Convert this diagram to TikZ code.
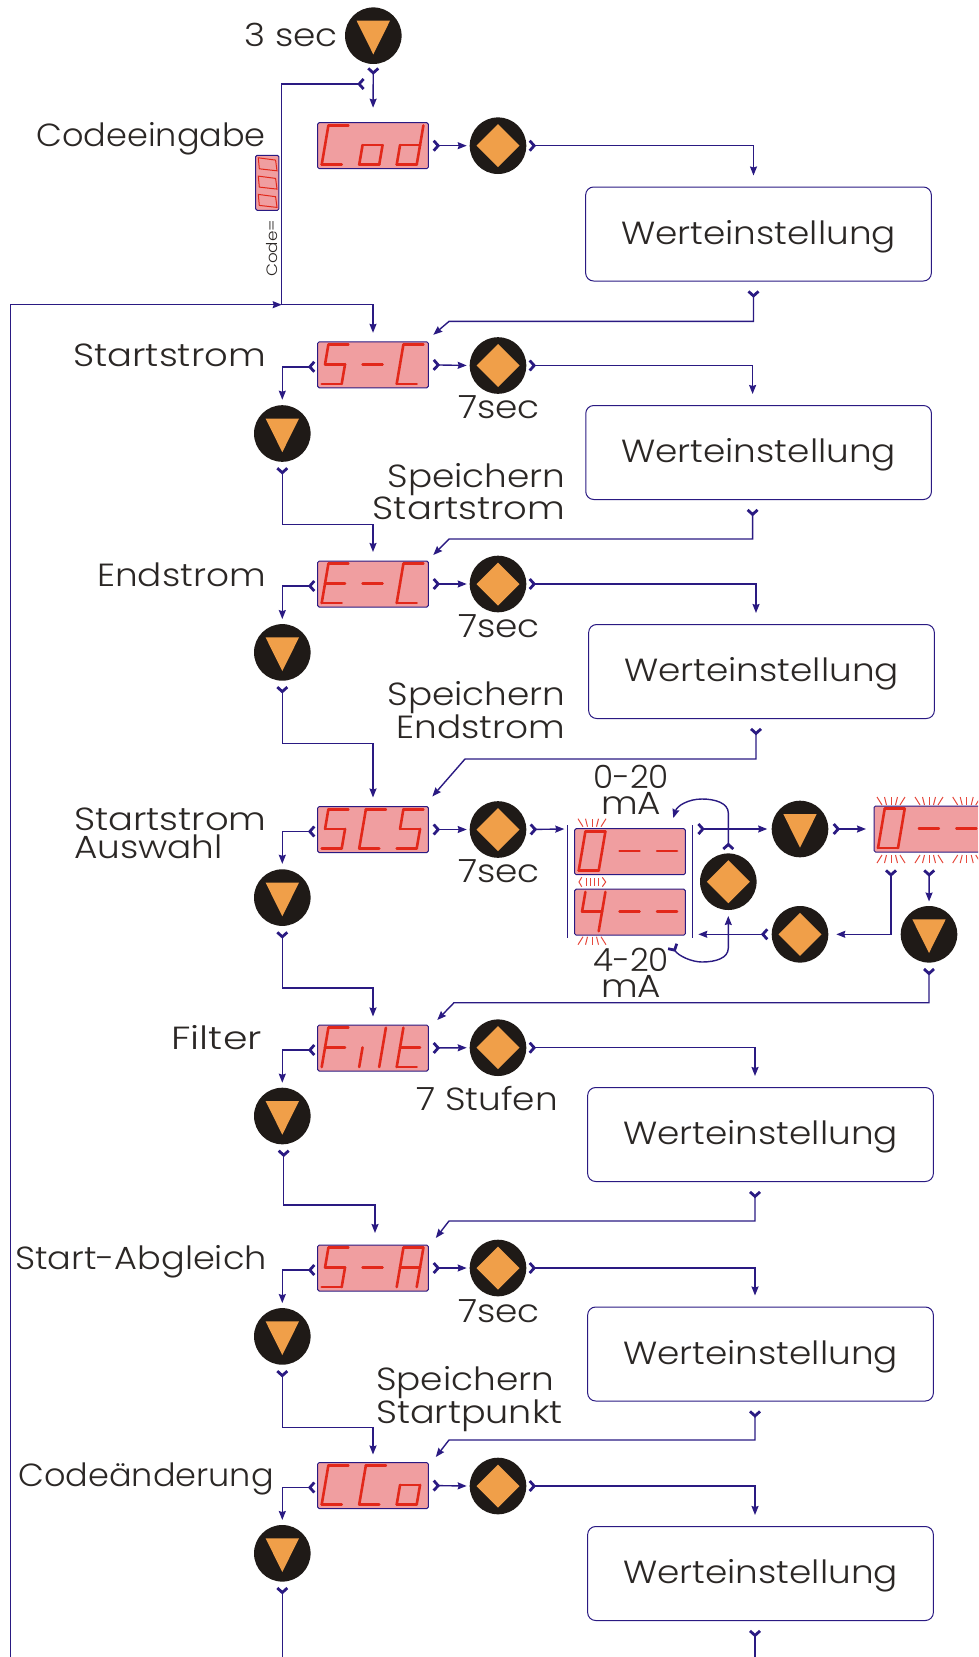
\documentclass[tikz,border=0pt]{standalone}
\usepackage{fontspec}
\setmainfont{Poppins}[UprightFont=* Light, FakeStretch=1.12]
\usetikzlibrary{arrows.meta}
\usetikzlibrary{calc}
\definecolor{lineblue}{HTML}{2A1A82}
\definecolor{btnblack}{HTML}{1F1A17}
\definecolor{btnorange}{HTML}{F09F49}
\definecolor{disppink}{HTML}{F09EA0}
\definecolor{segred}{HTML}{E2281A}
\definecolor{txtdark}{HTML}{2B2725}
\tikzset{Tail/.tip={Straight Barb[reversed, length=4.5pt, width=10pt, line width=2.8pt]}}
\tikzset{Head/.tip={Stealth[length=9pt, width=7pt, inset=1pt]}}
\tikzstyle{flow} = [draw=lineblue, line width=1.4pt, {Tail}-{Head}, shorten <=3pt, shorten >=3pt]
\tikzstyle{flowtail} = [draw=lineblue, line width=1.4pt, {Tail}-]
\tikzstyle{flowhead} = [draw=lineblue, line width=1.4pt, -{Head}]
\tikzstyle{bar} = [draw=lineblue, line width=1.2pt]
\tikzstyle{display} = [rectangle, rounded corners=1.5pt, minimum width=110.6pt, minimum height=46pt, outer sep=0pt, draw=lineblue, fill=disppink, line width=1pt]
\tikzstyle{valuebox} = [rectangle, rounded corners=8pt, minimum width=345.7pt, minimum height=94pt, outer sep=0pt, draw=lineblue, line width=1pt, text=txtdark, text depth=4pt, font=\fontsize{32}{36}\selectfont]
\tikzstyle{btndown} = [circle, minimum size=56.6pt, inner sep=0pt, outer sep=0pt, fill=btnblack, path picture={\fill[btnorange] ($(path picture bounding box.center)+(-16.7,-15)$) -- ++(33.4,0) -- ++(-16.7,33.7) -- cycle;}]
\tikzstyle{btnenter} = [circle, minimum size=56.6pt, inner sep=0pt, outer sep=0pt, fill=btnblack, path picture={\fill[btnorange] ($(path picture bounding box.center)+(-21.5,0)$) -- ++(21.5,-21.5) -- ++(21.5,21.5) -- ++(-21.5,21.5) -- cycle;}]
\tikzstyle{txt} = [inner sep=0pt, text=txtdark, font=\fontsize{32}{30}\selectfont]
\tikzstyle{seg} = [draw=segred, line width=2.6pt, line cap=round]
\tikzstyle{ray} = [draw=segred!85!white, line width=1pt]
\newcommand{\sega}{(6.7,-39.3) -- (26.7,-39.3)}
\newcommand{\segb}{(26.7,-39.3) -- (23.35,-19.6)}
\newcommand{\segc}{(23.35,-19.6) -- (20,0)}
\newcommand{\segd}{(0,0) -- (20,0)}
\newcommand{\sege}{(0,0) -- (3.35,-19.6)}
\newcommand{\segf}{(3.35,-19.6) -- (6.7,-39.3)}
\newcommand{\segg}{(3.35,-19.6) -- (23.35,-19.6)}
\newcommand{\segs}[3]{\begin{scope}[shift={($(#1.south west)+(4+37.5*#2,-4)$)}]
	\foreach \s in {#3}{\draw[seg] \csname seg\s\endcsname;}
\end{scope}}
\newcommand{\flashrays}[3]{\foreach \d/\t in {-9/-14,-4.5/-6.5,0/0,4.5/6.5,9/14}{\draw[ray] (#1+\d,#2) -- (#1+\t,#2+#3);}}
\newcommand{\wider}[2]{\scalebox{#1}[1]{#2}}

\begin{document}
\begin{tikzpicture}[x=1pt,y=-1pt]
	\clip (0,0) rectangle (978,1657);
	% displays
	\node[display](cod) at (373,145.7){};
	\node[display](sc) at (373,364.8){};
	\node[display](ec) at (373,584){};
	\node[display](scs) at (373,829.5){};
	\node[display](filt) at (373,1048){};
	\node[display](sa) at (373,1268){};
	\node[display](cco) at (373,1485.5){};
	\node[display](zero) at (630,851.7){};
	\node[display](four) at (630,912.2){};
	\node[display](flash) at (929.3,829){};
	\segs{cod}{0}{a,d,e,f}\segs{cod}{1}{c,d,e,g}\segs{cod}{2}{b,c,d,e,g}
	\segs{sc}{0}{a,c,d,f,g}\segs{sc}{1}{g}\segs{sc}{2}{a,d,e,f}
	\segs{ec}{0}{a,d,e,f,g}\segs{ec}{1}{g}\segs{ec}{2}{a,d,e,f}
	\segs{scs}{0}{a,c,d,f,g}\segs{scs}{1}{a,d,e,f}\segs{scs}{2}{a,c,d,f,g}
	\segs{filt}{0}{a,e,f,g}\segs{filt}{1}{e,b,c}\segs{filt}{2}{d,e,f,g}
	\segs{sa}{0}{a,c,d,f,g}\segs{sa}{1}{g}\segs{sa}{2}{a,b,c,e,f,g}
	\segs{cco}{0}{a,d,e,f}\segs{cco}{1}{a,d,e,f}\segs{cco}{2}{c,d,e,g}
	\segs{zero}{0}{a,b,c,d,e,f}\segs{zero}{1}{g}\segs{zero}{2}{g}
	\segs{four}{0}{b,c,f,g}\segs{four}{1}{g}\segs{four}{2}{g}
	\segs{flash}{0}{a,b,c,d,e,f}\segs{flash}{1}{g}\segs{flash}{2}{g}
	% blinking marks
	\flashrays{592}{826.7}{-8}
	\flashrays{592}{936.7}{8}
	\flashrays{891}{805}{-8}\flashrays{929}{805}{-8}\flashrays{966.7}{805}{-8}
	\flashrays{891}{855}{8}\flashrays{929}{855}{8}\flashrays{966.7}{855}{8}
	\draw[ray] (581.7,877.3) -- (579,882) -- (581.7,886.7);
	\draw[ray] (602.3,877.3) -- (605.7,882) -- (602.3,886.7);
	\foreach \x in {586,590.7,594,598.3}{\draw[ray] (\x,878) -- (\x,886);}
	% small code display
	\node[display, minimum width=23.3pt, minimum height=55pt](codesmall) at (267.3,182.8){};
	\foreach \d in {0,18.3,36.6}{\draw[draw=segred, line width=1pt] ($(codesmall.center)+(-9,-25+\d)$) -- ++(17.3,2.3) -- ++(1.4,10.7) -- ++(-17.7,-2) -- cycle;}
	\node[txt, font=\fontsize{15}{15}\selectfont, rotate=90, anchor=west](codetxt) at (272,277){Code=};
	% buttons
	\node[btndown](start) at (373.3,35.7){};
	\node[btnenter](ecod) at (498,145.7){};
	\node[btnenter](esc) at (498,365.5){};
	\node[btnenter](eec) at (498,584){};
	\node[btnenter](escs) at (498,829.5){};
	\node[btnenter](efilt) at (498,1047.7){};
	\node[btnenter](esa) at (498,1268){};
	\node[btnenter](ecco) at (498,1486){};
	\node[btndown](dsc) at (282.3,433.5){};
	\node[btndown](dec) at (282.3,652.4){};
	\node[btndown](dscs) at (282.3,897.6){};
	\node[btndown](dfilt) at (282.3,1116){};
	\node[btndown](dsa) at (282.3,1336.4){};
	\node[btndown](dcco) at (282.3,1553.3){};
	\node[btndown](dselect) at (800,829){};
	\node[btndown](dflash) at (929,934.3){};
	\node[btnenter](etoggle) at (728.3,881.7){};
	\node[btnenter](eback) at (800,934.3){};
	% value boxes
	\node[valuebox](wcod) at (758.5,234){Werteinstellung};
	\node[valuebox](wsc) at (758.6,452.5){Werteinstellung};
	\node[valuebox](wec) at (761.5,671.5){Werteinstellung};
	\node[valuebox](wfilt) at (760.5,1134.5){Werteinstellung};
	\node[valuebox](wsa) at (760.5,1354){Werteinstellung};
	\node[valuebox](wcco) at (760.5,1573.5){Werteinstellung};
	% texts
	\node[txt, anchor=base east](t3sec) at (338,46){3 sec};
	\node[txt, anchor=base east](tcod) at (266,146){\wider{0.935}{Codeeingabe}};
	\node[txt, anchor=base east](tsc) at (266,366){\wider{1.03}{Startstrom}};
	\node[txt, anchor=base east](tec) at (266,586){Endstrom};
	\node[txt, anchor=base west, align=left, font=\fontsize{32}{27.5}\selectfont](tscs) at (74,858){\wider{1.03}{Startstrom}\\Auswahl};
	\node[txt, anchor=base east](tfilt) at (262,1049){\wider{1.1}{Filter}};
	\node[txt, anchor=base east](tsa) at (267,1269){\wider{0.98}{Start-Abgleich}};
	\node[txt, anchor=base east](tcco) at (274,1486){\wider{0.935}{Codeänderung}};
	\node[txt, anchor=base](s1) at (499,418){7sec};
	\node[txt, anchor=base](s2) at (499,637){7sec};
	\node[txt, anchor=base](s3) at (499,882){7sec};
	\node[txt, anchor=base](s4) at (499,1322){7sec};
	\node[txt, anchor=base](s5) at (487,1110.5){7 Stufen};
	\node[txt, anchor=base east, align=right](ssc) at (565.5,519){Speichern\\\wider{1.03}{Startstrom}};
	\node[txt, anchor=base east, align=right](sec) at (565.5,738){Speichern\\Endstrom};
	\node[txt, anchor=base west, align=left](ssa) at (376,1423){Speichern\\\wider{1.02}{Startpunkt}};
	\node[txt, anchor=base, align=center, font=\fontsize{32}{25.5}\selectfont](t020) at (631,814){\wider{0.91}{0-20}\\mA};
	\node[txt, anchor=base, align=center, font=\fontsize{32}{26}\selectfont](t420) at (631,997){\wider{0.91}{4-20}\\mA};
	% code loop
	\coordinate (codeentry) at (365,84);
	\coordinate (junction) at (281.7,304.7);
	\coordinate (outer) at (10.7,1657);
	\draw[flow, shorten >=15pt] (start.south) -- (cod.north);
	\draw[flowtail] (codeentry) -| (junction);
	\draw[flowhead] (outer) |- (junction);
	\draw[flowhead, shorten >=9pt] (junction) -| (sc.north);
	% cod
	\draw[flow, shorten <=4pt] (cod.east) -- (ecod.west);
	\draw[flow, shorten <=2pt, shorten >=11.5pt] (ecod.east) -| ([xshift=-5pt]wcod.north);
	\coordinate (bcod) at (449,321.4);
	\draw[flow, shorten <=9pt, shorten >=0pt] ([xshift=-5pt]wcod.south) |- (bcod) -- ([shift={(5,-7)}]sc.north east);
	% sc
	\draw[flow, shorten <=4pt] (sc.east) -- (esc.west);
	\draw[flow, shorten <=2pt, shorten >=11.5pt] (esc.east) -| ([xshift=-6pt]wsc.north);
	\coordinate (bsc) at (449,539);
	\draw[flow, shorten <=9pt, shorten >=0pt] ([xshift=-6pt]wsc.south) |- (bsc) -- ([shift={(5,-6)}]ec.north east);
	\draw[flow, shorten <=2pt, shorten >=5.5pt] ([yshift=-2pt]sc.west) -| (dsc.north);
	\coordinate (dnsc) at (373,524.4);
	\draw[flow, shorten <=5pt, shorten >=9pt] (dsc.south) |- (dnsc) -- (ec.north);
	% ec
	\draw[flow, shorten <=4pt] (ec.east) -- (eec.west);
	\draw[flow, shorten <=2pt, shorten >=11.5pt] (eec.east) -| ([xshift=-5.5pt]wec.north);
	\coordinate (bec) at (465,759);
	\draw[flow, shorten <=9pt, shorten >=0pt] ([xshift=-5.5pt]wec.south) |- (bec) -- ([shift={(4,-10)}]scs.north east);
	\draw[flow, shorten <=2pt, shorten >=5pt] ([yshift=-2pt]ec.west) -| (dec.north);
	\coordinate (dnec) at (373,743.3);
	\draw[flow, shorten <=5pt, shorten >=9pt] (dec.south) |- (dnec) -- (scs.north);
	% scs and the selection
	\draw[flow, shorten <=4pt] (scs.east) -- (escs.west);
	\draw[flow, shorten <=2pt, shorten >=5.5pt] ([yshift=-2pt]scs.west) -| (dscs.north);
	\coordinate (dnscs) at (373,988);
	\draw[flow, shorten <=5pt, shorten >=8.5pt] (dscs.south) |- (dnscs) -- (filt.north);
	\draw[bar] (567.3,825) -- (567.3,938.3);
	\draw[bar] (692.3,825) -- (692.3,938.3);
	\coordinate (barin) at (564.3,829);
	\coordinate (barout) at (697,829);
	\coordinate (barback) at (698.3,934.3);
	\coordinate (seltop) at (673.3,818);
	\coordinate (selbot) at (671.7,945);
	\draw[flow, shorten >=0pt] (escs.east) -- (barin);
	\draw[flow, shorten <=0pt, shorten >=4.5pt] (barout) -- (dselect.west);
	\draw[flow, shorten <=4pt, shorten >=8pt] (dselect.east) -- (flash.west);
	\draw[flow, shorten >=0pt] (etoggle.north) -- (728.3,813) .. controls (728.3,803) and (715,799) .. (702,799) .. controls (688,799) and (677,806) .. (seltop);
	\draw[flow, shorten <=0pt, shorten >=6pt] (selbot) .. controls (678,956) and (692,962) .. (702,962) .. controls (716,962) and (728.3,958) .. (728.3,948) -- (etoggle.south);
	\draw[flow, shorten >=0pt] (eback.west) -- (barback);
	\draw[flow, shorten <=17pt, shorten >=8pt] ([xshift=-38.3pt]flash.south) |- (eback.east);
	\draw[flow, shorten <=17pt, shorten >=4.5pt] (flash.south) -- (dflash.north);
	\coordinate (bflash) at (454,1002.7);
	\draw[flow, shorten <=5pt, shorten >=0pt] (dflash.south) |- (bflash) -- ([shift={(9,-5)}]filt.north east);
	% filt
	\draw[flow, shorten <=4pt] (filt.east) -- (efilt.west);
	\draw[flow, shorten <=2pt, shorten >=11.5pt] (efilt.east) -| ([xshift=-5.5pt]wfilt.north);
	\coordinate (bfilt) at (449,1221);
	\draw[flow, shorten <=9pt, shorten >=0pt] ([xshift=-5.5pt]wfilt.south) |- (bfilt) -- ([shift={(7.5,-7)}]sa.north east);
	\draw[flow, shorten <=2pt, shorten >=5pt] ([yshift=-2pt]filt.west) -| (dfilt.north);
	\coordinate (dnfilt) at (375,1205);
	\draw[flow, shorten <=5pt, shorten >=12pt] ([xshift=1.4pt]dfilt.south) |- (dnfilt) -- ([xshift=2pt]sa.north);
	% sa
	\draw[flow, shorten <=4pt] (sa.east) -- (esa.west);
	\draw[flow, shorten <=2pt, shorten >=11.5pt] (esa.east) -| ([xshift=-5.5pt]wsa.north);
	\coordinate (bsa) at (449,1440);
	\draw[flow, shorten <=9pt, shorten >=0pt] ([xshift=-5.5pt]wsa.south) |- (bsa) -- ([shift={(7.5,-5.5)}]cco.north east);
	\draw[flow, shorten <=2pt, shorten >=5pt] ([yshift=-2pt]sa.west) -| (dsa.north);
	\coordinate (dnsa) at (373,1427.4);
	\draw[flow, shorten <=5pt, shorten >=8pt] (dsa.south) |- (dnsa) -- (cco.north);
	% cco
	\draw[flow, shorten <=4pt] (cco.east) -- (ecco.west);
	\draw[flow, shorten <=2pt, shorten >=11.5pt] (ecco.east) -| ([xshift=-5.5pt]wcco.north);
	\coordinate (endbox) at (755,1657);
	\coordinate (endbtn) at (282.3,1657);
	\draw[flowtail, shorten <=9pt] ([xshift=-5.5pt]wcco.south) -- (endbox);
	\draw[flow, shorten <=2pt, shorten >=5pt] ([yshift=-2pt]cco.west) -| (dcco.north);
	\draw[flowtail, shorten <=5pt] (dcco.south) -- (endbtn);
\end{tikzpicture}
\end{document}
